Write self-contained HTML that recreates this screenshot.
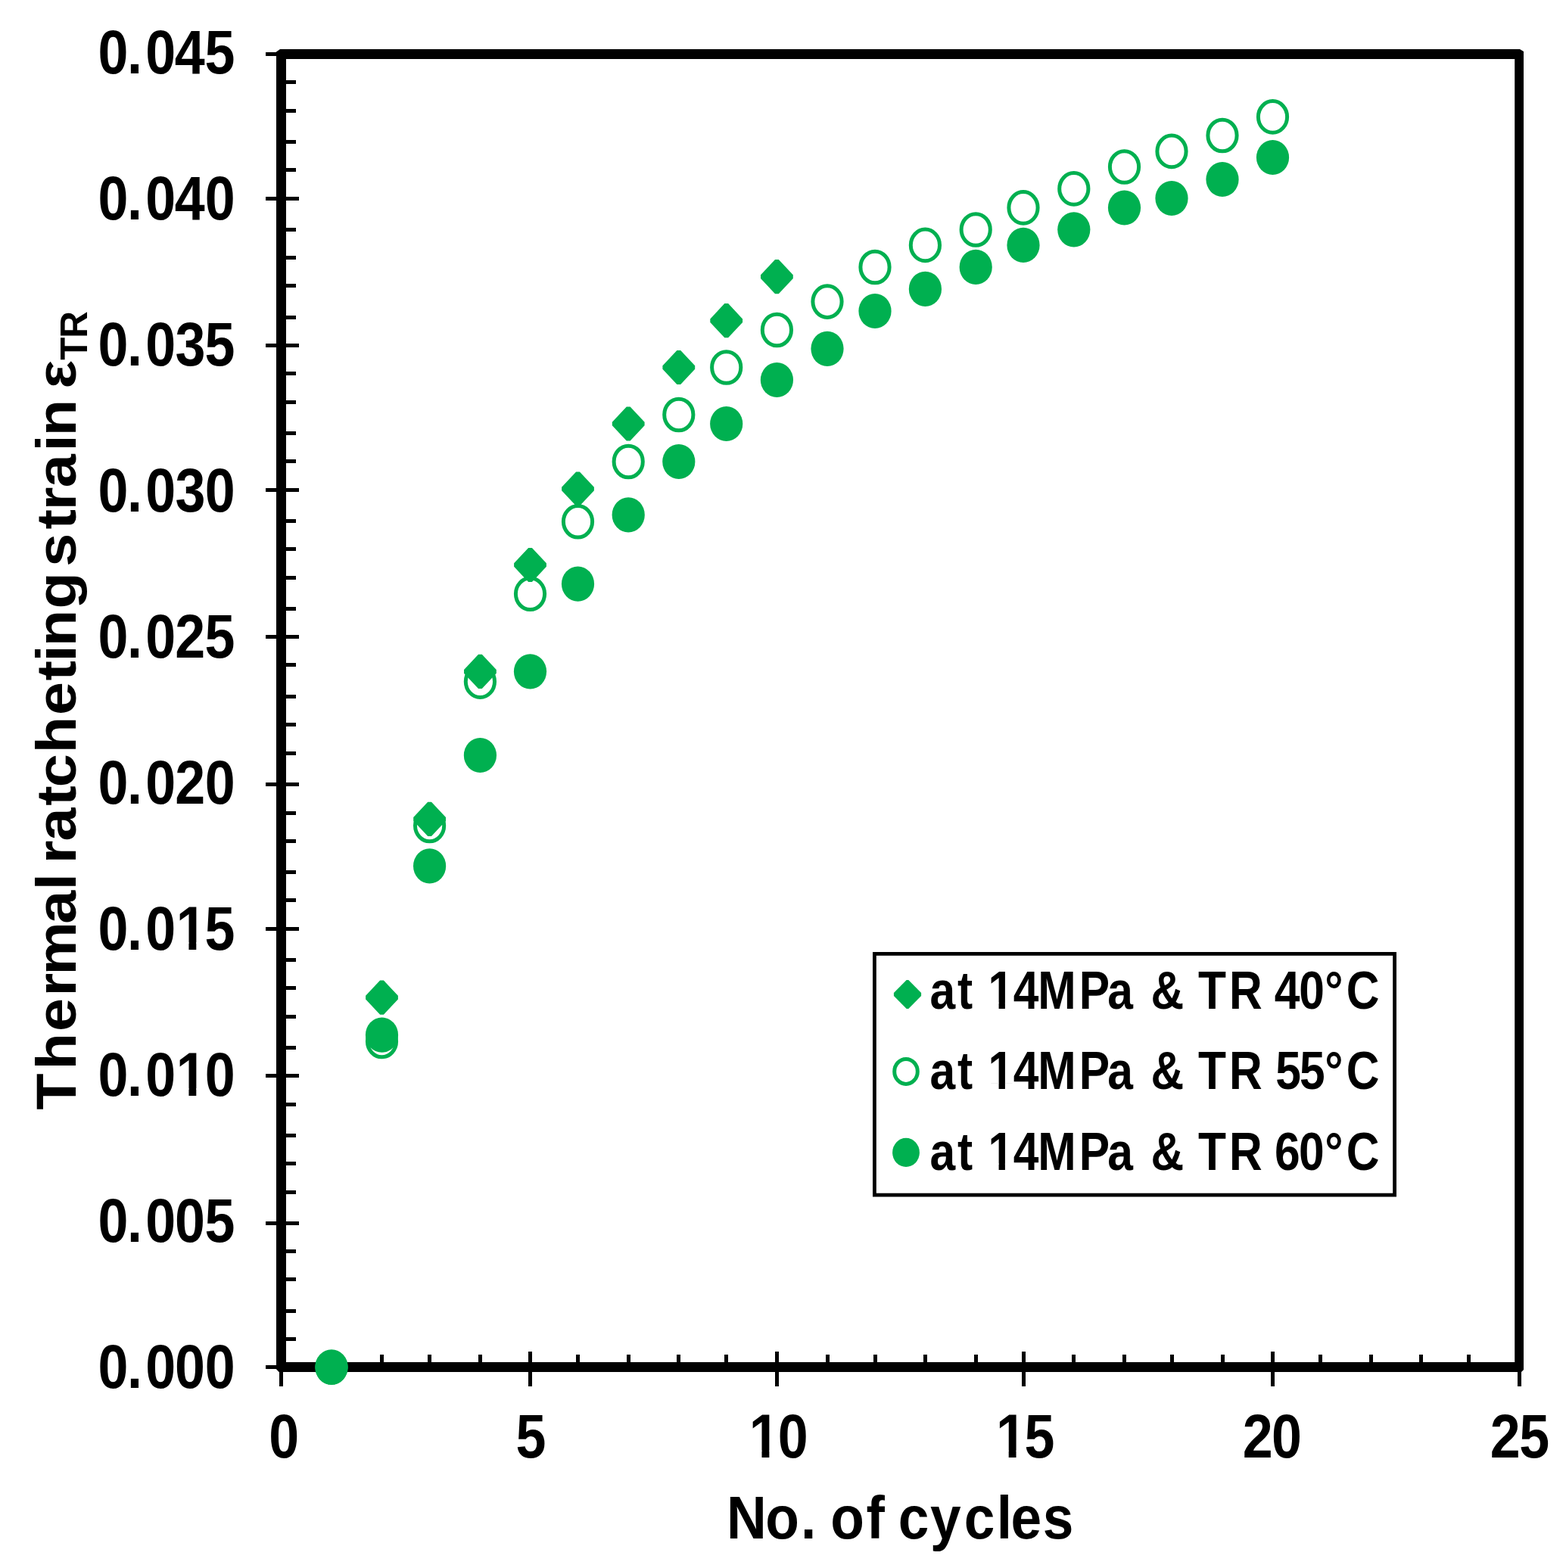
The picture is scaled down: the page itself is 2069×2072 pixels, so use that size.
<!DOCTYPE html>
<html><head><meta charset="utf-8"><title>Thermal ratcheting strain vs No. of cycles</title>
<style>html,body{margin:0;padding:0;background:#fff;overflow:hidden}svg{display:block}</style>
</head><body>
<svg width="2069" height="2072" viewBox="0 0 2069 2072">
<path d="M370 65H2008L2013 68V1810L2010 1813H368.6L365 1809.2V68.5Z M378 78V1800H2001.2V78Z" fill="#000" fill-rule="evenodd"/>
<path d="M351 71.5H395 M372 108.3H391 M372 146.2H391 M372 187.2H391 M372 224.5H391 M351 262.4H395 M372 303.5H391 M372 340.4H391 M372 377.2H391 M372 419H391 M351 456.3H395 M372 493.2H391 M372 531.3H391 M372 572.1H391 M372 609.4H391 M351 647.2H395 M372 688.2H391 M372 725.9H391 M372 763.2H391 M372 804.2H391 M351 841.7H395 M372 878.8H391 M372 920.2H391 M372 957.7H391 M372 995.0H391 M351 1036.4H395 M372 1074.2H391 M372 1111.3H391 M372 1152.3H391 M372 1189.4H391 M351 1227.3H395 M372 1268.3H391 M372 1305.4H391 M372 1343.3H391 M372 1384.5H391 M351 1421.5H395 M372 1459.4H391 M372 1500.4H391 M372 1537.5H391 M372 1575.4H391 M351 1616.4H395 M372 1653.5H391 M372 1690.6H391 M372 1732.5H391 M372 1769.6H391 M351 1806.5H395 M371.4 1786V1832 M438 1789.7V1806 M504.5 1789.7V1806 M567.6 1789.7V1806 M634.4 1789.7V1806 M700.5 1786V1832 M763.5 1789.7V1806 M830.2 1789.7V1806 M896.8 1789.7V1806 M959.7 1789.7V1806 M1026.4 1786V1832 M1093 1789.7V1806 M1156 1789.7V1806 M1222.4 1789.7V1806 M1289.2 1789.7V1806 M1352 1786V1832 M1418.8 1789.7V1806 M1485.5 1789.7V1806 M1548 1789.7V1806 M1615 1789.7V1806 M1681.5 1786V1832 M1744.5 1789.7V1806 M1811.2 1789.7V1806 M1877.2 1789.7V1806 M1940.4 1789.7V1806 M2007.3 1786V1832" stroke="#000" stroke-width="5" fill="none" shape-rendering="crispEdges"/>
<text font-family="'Liberation Sans', Arial, sans-serif" font-weight="bold" font-size="82" transform="translate(0 1833.5400000000002) scale(0.875 1)" x="147.89 192.13 219.83 264.11 309.43" y="0">0.000</text>
<text font-family="'Liberation Sans', Arial, sans-serif" font-weight="bold" font-size="82" transform="translate(0 1640.5800000000002) scale(0.875 1)" x="147.89 192.13 219.83 264.11 309.25" y="0">0.005</text>
<text font-family="'Liberation Sans', Arial, sans-serif" font-weight="bold" font-size="82" transform="translate(0 1447.6200000000001) scale(0.875 1)" x="147.89 192.13 219.83 265.95 309.43" y="0">0.010</text>
<text font-family="'Liberation Sans', Arial, sans-serif" font-weight="bold" font-size="82" transform="translate(0 1254.66) scale(0.875 1)" x="147.89 192.13 219.83 265.95 309.25" y="0">0.015</text>
<text font-family="'Liberation Sans', Arial, sans-serif" font-weight="bold" font-size="82" transform="translate(0 1061.7) scale(0.875 1)" x="147.89 192.13 219.83 264.28 309.43" y="0">0.020</text>
<text font-family="'Liberation Sans', Arial, sans-serif" font-weight="bold" font-size="82" transform="translate(0 868.74) scale(0.875 1)" x="147.89 192.13 219.83 264.28 309.25" y="0">0.025</text>
<text font-family="'Liberation Sans', Arial, sans-serif" font-weight="bold" font-size="82" transform="translate(0 675.78) scale(0.875 1)" x="147.89 192.13 219.83 264.60 309.43" y="0">0.030</text>
<text font-family="'Liberation Sans', Arial, sans-serif" font-weight="bold" font-size="82" transform="translate(0 482.82000000000005) scale(0.875 1)" x="147.89 192.13 219.83 264.60 309.25" y="0">0.035</text>
<text font-family="'Liberation Sans', Arial, sans-serif" font-weight="bold" font-size="82" transform="translate(0 289.86) scale(0.875 1)" x="147.89 192.13 219.83 263.65 309.43" y="0">0.040</text>
<text font-family="'Liberation Sans', Arial, sans-serif" font-weight="bold" font-size="82" transform="translate(0 96.9) scale(0.875 1)" x="147.89 192.13 219.83 263.65 309.25" y="0">0.045</text>
<text font-family="'Liberation Sans', Arial, sans-serif" font-weight="bold" font-size="82" transform="translate(0 1926) scale(0.875 1)" x="406.11" y="0">0</text>
<text font-family="'Liberation Sans', Arial, sans-serif" font-weight="bold" font-size="82" transform="translate(0 1926) scale(0.875 1)" x="778.73" y="0">5</text>
<text font-family="'Liberation Sans', Arial, sans-serif" font-weight="bold" font-size="82" transform="translate(0 1926) scale(0.875 1)" x="1131.15 1174.51" y="0">10</text>
<text font-family="'Liberation Sans', Arial, sans-serif" font-weight="bold" font-size="82" transform="translate(0 1926) scale(0.875 1)" x="1503.95 1546.79" y="0">15</text>
<text font-family="'Liberation Sans', Arial, sans-serif" font-weight="bold" font-size="82" transform="translate(0 1926) scale(0.875 1)" x="1876.39 1919.94" y="0">20</text>
<text font-family="'Liberation Sans', Arial, sans-serif" font-weight="bold" font-size="82" transform="translate(0 1926) scale(0.875 1)" x="2250.10 2294.11" y="0">25</text>
<text font-family="'Liberation Sans', Arial, sans-serif" font-weight="bold" font-size="80.5" transform="translate(0 2033.2) scale(0.908 1)" x="1057.35 1113.68 1165.18 1187.54 1208.34 1260.44 1287.25 1306.96 1353.62 1402.77 1450.20 1470.81 1517.44" y="0">No. of cycles</text>
<text font-family="'Liberation Sans', Arial, sans-serif" font-weight="bold" font-size="74" transform="translate(100 2000) rotate(-90) scale(1.07 1)" x="498.46 548.18 595.27 638.91 664.90 728.20 769.80 790.36 802.55 830.49 874.13 896.91 939.12 985.88 1028.57 1051.95 1070.85 1117.28 1162.48 1169.41 1215.34 1239.00 1267.03 1311.72 1330.53 1375.73 1389.26" y="0">Thermal ratcheting strain ε</text>
<text font-family="'Liberation Sans', Arial, sans-serif" font-weight="bold" font-size="49.3" transform="translate(115.1 2000) rotate(-90) scale(1.0 1)" x="1524.38 1553.16" y="0">TR</text>
<path d="M435.6 1783.9L440.4 1783.9L459.4 1804.2L459.4 1808.8L440.4 1829.1L435.6 1829.1L416.6 1808.8L416.6 1804.2ZM502.1 1295.5L506.9 1295.5L525.9 1315.8L525.9 1320.4L506.9 1340.7L502.1 1340.7L483.1 1320.4L483.1 1315.8ZM565.2 1059.8L570.0 1059.8L589.0 1080.1L589.0 1084.7L570.0 1105.0L565.2 1105.0L546.2 1084.7L546.2 1080.1ZM632.0 864.8L636.8 864.8L655.8 885.1L655.8 889.7L636.8 910.0L632.0 910.0L613.0 889.7L613.0 885.1ZM698.1 723.9L702.9 723.9L721.9 744.2L721.9 748.8L702.9 769.1L698.1 769.1L679.1 748.8L679.1 744.2ZM761.1 623.4L765.9 623.4L784.9 643.7L784.9 648.3L765.9 668.6L761.1 668.6L742.1 648.3L742.1 643.7ZM827.8 537.4L832.6 537.4L851.6 557.7L851.6 562.3L832.6 582.6L827.8 582.6L808.8 562.3L808.8 557.7ZM894.4 462.9L899.2 462.9L918.2 483.2L918.2 487.8L899.2 508.1L894.4 508.1L875.4 487.8L875.4 483.2ZM957.3 401.1L962.1 401.1L981.1 421.4L981.1 426.0L962.1 446.3L957.3 446.3L938.3 426.0L938.3 421.4ZM1024.0 343.0L1028.8 343.0L1047.8 363.3L1047.8 367.9L1028.8 388.2L1024.0 388.2L1005.0 367.9L1005.0 363.3Z" fill="#00B050"/>
<ellipse cx="438" cy="1806.5" rx="19.1" ry="20.8" fill="none" stroke="#00B050" stroke-width="5"/>
<ellipse cx="504.5" cy="1376" rx="19.1" ry="20.8" fill="none" stroke="#00B050" stroke-width="5"/>
<ellipse cx="567.6" cy="1091" rx="19.1" ry="20.8" fill="none" stroke="#00B050" stroke-width="5"/>
<ellipse cx="634.4" cy="900.7" rx="19.1" ry="20.8" fill="none" stroke="#00B050" stroke-width="5"/>
<ellipse cx="700.5" cy="784.8" rx="19.1" ry="20.8" fill="none" stroke="#00B050" stroke-width="5"/>
<ellipse cx="763.5" cy="689.3" rx="19.1" ry="20.8" fill="none" stroke="#00B050" stroke-width="5"/>
<ellipse cx="830.2" cy="610" rx="19.1" ry="20.8" fill="none" stroke="#00B050" stroke-width="5"/>
<ellipse cx="896.8" cy="548" rx="19.1" ry="20.8" fill="none" stroke="#00B050" stroke-width="5"/>
<ellipse cx="959.7" cy="485.5" rx="19.1" ry="20.8" fill="none" stroke="#00B050" stroke-width="5"/>
<ellipse cx="1026.4" cy="436" rx="19.1" ry="20.8" fill="none" stroke="#00B050" stroke-width="5"/>
<ellipse cx="1093" cy="398.6" rx="19.1" ry="20.8" fill="none" stroke="#00B050" stroke-width="5"/>
<ellipse cx="1156" cy="353" rx="19.1" ry="20.8" fill="none" stroke="#00B050" stroke-width="5"/>
<ellipse cx="1222.4" cy="323.9" rx="19.1" ry="20.8" fill="none" stroke="#00B050" stroke-width="5"/>
<ellipse cx="1289.2" cy="303.5" rx="19.1" ry="20.8" fill="none" stroke="#00B050" stroke-width="5"/>
<ellipse cx="1352" cy="274.4" rx="19.1" ry="20.8" fill="none" stroke="#00B050" stroke-width="5"/>
<ellipse cx="1418.8" cy="249.4" rx="19.1" ry="20.8" fill="none" stroke="#00B050" stroke-width="5"/>
<ellipse cx="1485.5" cy="220.5" rx="19.1" ry="20.8" fill="none" stroke="#00B050" stroke-width="5"/>
<ellipse cx="1548" cy="199.9" rx="19.1" ry="20.8" fill="none" stroke="#00B050" stroke-width="5"/>
<ellipse cx="1615" cy="179" rx="19.1" ry="20.8" fill="none" stroke="#00B050" stroke-width="5"/>
<ellipse cx="1681.5" cy="154.4" rx="19.1" ry="20.8" fill="none" stroke="#00B050" stroke-width="5"/>
<ellipse cx="438" cy="1807" rx="21.6" ry="23.1" fill="#00B050"/>
<ellipse cx="504.5" cy="1367.7" rx="21.6" ry="23.1" fill="#00B050"/>
<ellipse cx="567.6" cy="1144.4" rx="21.6" ry="23.1" fill="#00B050"/>
<ellipse cx="634.4" cy="998" rx="21.6" ry="23.1" fill="#00B050"/>
<ellipse cx="700.5" cy="887.3" rx="21.6" ry="23.1" fill="#00B050"/>
<ellipse cx="763.5" cy="771.7" rx="21.6" ry="23.1" fill="#00B050"/>
<ellipse cx="830.2" cy="680.4" rx="21.6" ry="23.1" fill="#00B050"/>
<ellipse cx="896.8" cy="610" rx="21.6" ry="23.1" fill="#00B050"/>
<ellipse cx="959.7" cy="560" rx="21.6" ry="23.1" fill="#00B050"/>
<ellipse cx="1026.4" cy="502" rx="21.6" ry="23.1" fill="#00B050"/>
<ellipse cx="1093" cy="460.8" rx="21.6" ry="23.1" fill="#00B050"/>
<ellipse cx="1156" cy="411" rx="21.6" ry="23.1" fill="#00B050"/>
<ellipse cx="1222.4" cy="381.9" rx="21.6" ry="23.1" fill="#00B050"/>
<ellipse cx="1289.2" cy="352.9" rx="21.6" ry="23.1" fill="#00B050"/>
<ellipse cx="1352" cy="323.9" rx="21.6" ry="23.1" fill="#00B050"/>
<ellipse cx="1418.8" cy="303.3" rx="21.6" ry="23.1" fill="#00B050"/>
<ellipse cx="1485.5" cy="274.5" rx="21.6" ry="23.1" fill="#00B050"/>
<ellipse cx="1548" cy="262" rx="21.6" ry="23.1" fill="#00B050"/>
<ellipse cx="1615" cy="237" rx="21.6" ry="23.1" fill="#00B050"/>
<ellipse cx="1681.5" cy="208" rx="21.6" ry="23.1" fill="#00B050"/>
<rect x="1155.4" y="1260.4" width="687.2" height="318.7" fill="#fff" stroke="#000" stroke-width="4.8"/>
<text font-family="'Liberation Sans', Arial, sans-serif" font-weight="bold" font-size="70" transform="translate(0 1333) scale(0.865 1)" x="1420.10 1462.39 1485.70 1509.20 1547.82 1585.35 1648.28 1691.71 1730.65 1757.81 1808.36 1829.93 1877.49 1928.05 1946.67 1984.23 2023.31 2056.44" y="0">at 14MPa &amp; TR 40°C</text>
<text font-family="'Liberation Sans', Arial, sans-serif" font-weight="bold" font-size="70" transform="translate(0 1439.3) scale(0.865 1)" x="1420.10 1462.39 1485.70 1509.20 1547.82 1585.35 1648.28 1691.71 1730.65 1757.81 1808.36 1829.93 1877.49 1928.05 1948.18 1985.11 2023.31 2056.44" y="0">at 14MPa &amp; TR 55°C</text>
<text font-family="'Liberation Sans', Arial, sans-serif" font-weight="bold" font-size="70" transform="translate(0 1545.6) scale(0.865 1)" x="1420.10 1462.39 1485.70 1509.20 1547.82 1585.35 1648.28 1691.71 1730.65 1757.81 1808.36 1829.93 1877.49 1928.05 1946.93 1983.94 2023.31 2056.44" y="0">at 14MPa &amp; TR 60°C</text>
<path d="M1197.7 1295.0L1200.3 1295.0L1217.1 1312.1L1217.1 1315.9L1200.3 1333.0L1197.7 1333.0L1180.9 1315.9L1180.9 1312.1Z" fill="#00B050"/>
<ellipse cx="1197" cy="1415.9" rx="15.3" ry="16.5" fill="none" stroke="#00B050" stroke-width="5"/>
<ellipse cx="1197" cy="1522.9" rx="17.9" ry="19.1" fill="#00B050"/>
<path d="M236.02 1438.25H249.45V1448.82H236.02ZM259.29 1438.25H271.81V1448.82H259.29ZM236.02 1245.29H249.45V1255.86H236.02ZM259.29 1245.29H271.81V1255.86H259.29ZM993.07 1916.63H1006.50V1927.20H993.07ZM1016.34 1916.63H1028.86V1927.20H1016.34ZM1319.27 1916.63H1332.70V1927.20H1319.27ZM1342.54 1916.63H1355.06V1927.20H1342.54ZM1308.07 1324.86H1319.59V1334.20H1308.07ZM1327.90 1324.86H1338.65V1334.20H1327.90ZM1308.07 1431.16H1319.59V1440.50H1308.07ZM1327.90 1431.16H1338.65V1440.50H1327.90ZM1308.07 1537.46H1319.59V1546.80H1308.07ZM1327.90 1537.46H1338.65V1546.80H1327.90Z" fill="#fff"/>
</svg>
</body></html>
